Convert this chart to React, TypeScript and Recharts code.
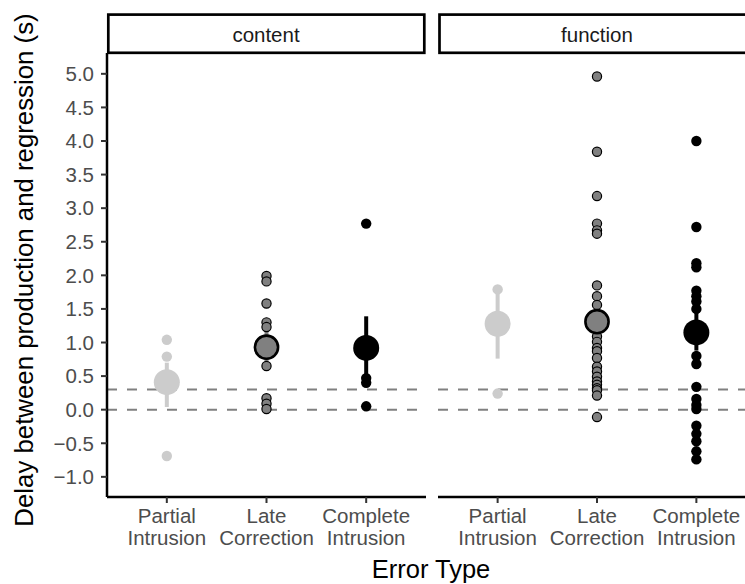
import { ScatterChart, Scatter, XAxis, YAxis, ReferenceLine, ErrorBar } from "recharts"

const tickLines = [
  ["Partial", "Intrusion"],
  ["Late", "Correction"],
  ["Complete", "Intrusion"],
]
const yTicks = [-1, -0.5, 0, 0.5, 1, 1.5, 2, 2.5, 3, 3.5, 4, 4.5, 5]

// raw points
const contentPartial = [1.04, 0.79, -0.69]
const contentLate = [1.99, 1.91, 1.58, 1.3, 1.23, 0.65, 0.17, 0.09, 0.01]
const contentComplete = [2.77, 0.47, 0.4, 0.05]
const functionPartial = [1.79, 0.24]
const functionLate = [4.96, 3.84, 3.18, 2.77, 2.67, 2.62, 1.85, 1.69, 1.56, 1.09, 1.01, 0.92, 0.87, 0.77, 0.64, 0.57, 0.49, 0.42, 0.37, 0.32, 0.29, 0.21, -0.11]
const functionComplete = [4.0, 2.72, 2.18, 2.12, 1.77, 1.69, 1.61, 1.5, 0.8, 0.68, 0.34, 0.16, 0.07, 0.01, -0.24, -0.36, -0.47, -0.62, -0.74]

// means and intervals per error type
const contentMean = [0.41, 0.93, 0.92]
const contentLow = [0.04, 0.7, 0.42]
const contentHigh = [0.7, 1.16, 1.39]
const functionMean = [1.28, 1.31, 1.15]
const functionLow = [0.76, 1.05, 0.88]
const functionHigh = [1.78, 1.57, 1.45]

const fills = ["#CCCCCC", "#808080", "#000000"]
const FONT = "'Liberation Sans', Arial, Helvetica, sans-serif"

function XTick(props: any) {
  const { x, y, payload } = props
  const lines = tickLines[payload.value]
  return (
    <g>
      <text x={x} y={y + 18} textAnchor="middle" fill="#4d4d4d" fontSize={20.5}>{lines[0]}</text>
      <text x={x} y={y + 40} textAnchor="middle" fill="#4d4d4d" fontSize={20.5}>{lines[1]}</text>
    </g>
  )
}

function Panel({ series, means, lows, highs, width, marginLeft, showY }: any) {
  const pts = series.map((vals: number[], i: number) => vals.map((v) => ({ x: i, y: v })))
  const bars = means.map((m: number, i: number) => [{ x: i, y: m, err: [m - lows[i], highs[i] - m] }])
  return (
    <ScatterChart width={width} height={584} margin={{ top: 53, right: 6, bottom: 57, left: marginLeft }}>
      <XAxis
        type="number"
        dataKey="x"
        domain={[-0.6, 2.6]}
        ticks={[0, 1, 2]}
        height={30}
        tick={<XTick />}
        tickSize={6}
        tickLine={{ stroke: "#333333", strokeWidth: 2 }}
        axisLine={{ stroke: "#000", strokeWidth: 2.5 }}
      />
      <YAxis
        type="number"
        dataKey="y"
        domain={[-1.3, 5.31]}
        ticks={yTicks}
        hide={!showY}
        width={60}
        tickSize={6}
        tickMargin={7}
        tickFormatter={(v: number) => v.toFixed(1).replace("-", "\u2212")}
        tick={{ fill: "#4d4d4d", fontSize: 20.5 }}
        tickLine={{ stroke: "#333333", strokeWidth: 2 }}
        axisLine={{ stroke: "#000", strokeWidth: 2.5 }}
      />
      <ReferenceLine y={0.3} stroke="#808080" strokeWidth={2} strokeDasharray="10 10" />
      <ReferenceLine y={0} stroke="#808080" strokeWidth={2} strokeDasharray="10 10" />
      {bars.map((d: any, i: number) => (
        <Scatter key={"bar" + i} data={d} isAnimationActive={false} shape={() => <g />}>
          <ErrorBar dataKey="err" direction="y" width={0} stroke={fills[i]} strokeWidth={4} isAnimationActive={false} />
        </Scatter>
      ))}
      {pts.map((d: any, i: number) => (
        <Scatter
          key={"pts" + i}
          data={d}
          isAnimationActive={false}
          shape={(p: any) => (
            <circle cx={p.cx} cy={p.cy} r={i === 1 ? 4.6 : 5.2} fill={fills[i]} stroke={i === 1 ? "#000" : "none"} strokeWidth={1.2} />
          )}
        />
      ))}
      {bars.map((d: any, i: number) => (
        <Scatter
          key={"mean" + i}
          data={d}
          isAnimationActive={false}
          shape={(p: any) => (
            <circle cx={p.cx} cy={p.cy} r={i === 1 ? 11.6 : 13} fill={fills[i]} stroke={i === 1 ? "#000" : "none"} strokeWidth={2.6} />
          )}
        />
      ))}
    </ScatterChart>
  )
}

export default function App() {
  return (
    <div style={{ position: "absolute", left: 0, top: 0, width: 745, height: 584, overflow: "hidden", background: "#fff", fontFamily: FONT }}>
      <div style={{ position: "absolute", left: 0, top: 0 }}>
        <Panel
          series={[contentPartial, contentLate, contentComplete]}
          means={contentMean}
          lows={contentLow}
          highs={contentHigh}
          width={432}
          marginLeft={47}
          showY={true}
        />
      </div>
      <div style={{ position: "absolute", left: 432, top: 0 }}>
        <Panel
          series={[functionPartial, functionLate, functionComplete]}
          means={functionMean}
          lows={functionLow}
          highs={functionHigh}
          width={330}
          marginLeft={6}
          showY={false}
        />
      </div>
      <svg width={745} height={584} style={{ position: "absolute", left: 0, top: 0, pointerEvents: "none" }}>
        {/* facet strips */}
        <rect x={108.3} y={14.6} width={316} height={38.2} fill="#fff" stroke="#000" strokeWidth={2.7} />
        <text x={266} y={41.7} textAnchor="middle" fontSize={20.5} fill="#1a1a1a">content</text>
        <rect x={439.5} y={14.6} width={316} height={38.2} fill="#fff" stroke="#000" strokeWidth={2.7} />
        <text x={597} y={41.7} textAnchor="middle" fontSize={20.5} fill="#1a1a1a">function</text>
        {/* axis titles */}
        <text x={33} y={270} transform="rotate(-90, 33, 270)" textAnchor="middle" fontSize={25.8} fill="#000">
          Delay between production and regression (s)
        </text>
        <text x={431} y={578} textAnchor="middle" fontSize={25.5} fill="#000">Error Type</text>
      </svg>
    </div>
  )
}
